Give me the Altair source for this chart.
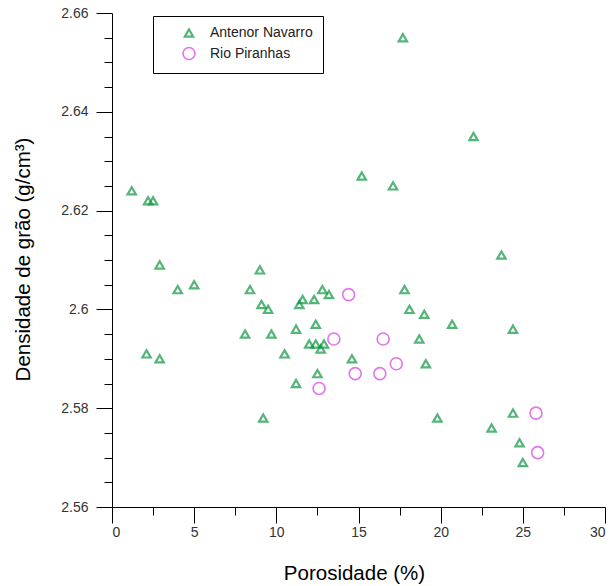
import altair as alt
import pandas as pd

# Antenor Navarro samples: porosity (%) and grain density (g/cm3)
an_por = [1.2, 2.2, 2.5, 2.9, 4.0, 5.0, 9.0, 8.4, 9.1, 9.5, 8.1, 9.7, 2.1, 2.9,
          10.5, 11.2, 11.6, 11.4, 12.3, 12.8, 13.2, 12.4, 12.0, 12.4, 12.9, 12.7,
          12.5, 11.2, 9.2, 17.7, 22.0, 15.2, 17.1, 17.8, 18.1, 19.0, 20.7, 24.4,
          18.7, 14.6, 19.1, 19.8, 24.4, 23.1, 24.8, 25.0, 23.7]
an_dens = [2.624, 2.622, 2.622, 2.609, 2.604, 2.605, 2.608, 2.604, 2.601, 2.600,
           2.595, 2.595, 2.591, 2.590, 2.591, 2.596, 2.602, 2.601, 2.602, 2.604,
           2.603, 2.597, 2.593, 2.593, 2.593, 2.592, 2.587, 2.585, 2.578, 2.655,
           2.635, 2.627, 2.625, 2.604, 2.600, 2.599, 2.597, 2.596, 2.594, 2.590,
           2.589, 2.578, 2.579, 2.576, 2.573, 2.569, 2.611]

# Rio Piranhas samples
rp_por = [14.4, 13.5, 16.5, 14.8, 16.3, 17.3, 12.6, 25.8, 25.9]
rp_dens = [2.603, 2.594, 2.594, 2.587, 2.587, 2.589, 2.584, 2.579, 2.571]

groups = ["Antenor Navarro", "Rio Piranhas"]

# Axis tick positions (major ones carry labels, halves are minor ticks)
x_ticks = [0, 2.5, 5, 7.5, 10, 12.5, 15, 17.5, 20, 22.5, 25, 27.5, 30]
y_ticks = [2.56, 2.565, 2.57, 2.575, 2.58, 2.585, 2.59, 2.595, 2.6, 2.605,
           2.61, 2.615, 2.62, 2.625, 2.63, 2.635, 2.64, 2.645, 2.65, 2.655, 2.66]

df = pd.concat([
    pd.DataFrame({"por": an_por, "dens": an_dens, "grupo": groups[0]}),
    pd.DataFrame({"por": rp_por, "dens": rp_dens, "grupo": groups[1]}),
])

FONT = "Liberation Sans"

x_axis = alt.Axis(
    values=x_ticks,
    title="Porosidade (%)",
    labelExpr="datum.value % 5 == 0 ? format(datum.value, '~g') : ''",
    tickSize={"condition": {"test": "datum.value % 5 == 0", "value": 16}, "value": 8},
    labelPadding=2,
    grid=False,
    domainColor="black",
    tickColor="black",
    labelColor="#333333",
    labelFontSize=14,
    labelFont=FONT,
    titleFont=FONT,
    titleFontSize=20.5,
    titleFontWeight="normal",
    titleColor="black",
    titleX=242,
    titleY=72,
    titleBaseline="alphabetic",
)

y_axis = alt.Axis(
    values=y_ticks,
    title="Densidade de grão (g/cm³)",
    labelExpr="round(datum.value * 1000) % 20 == 0 ? format(datum.value, '~g') : ''",
    tickSize={"condition": {"test": "round(datum.value * 1000) % 20 == 0", "value": 16}, "value": 8},
    labelPadding=8,
    grid=False,
    domainColor="black",
    tickColor="black",
    labelColor="#333333",
    labelFontSize=14,
    labelFont=FONT,
    titleFont=FONT,
    titleFontSize=20.5,
    titleFontWeight="normal",
    titleColor="black",
    titleX=-89,
    titleY=246,
    titleAngle=270,
    titleBaseline="middle",
)

legend = alt.Legend(
    title=None,
    orient="none",
    legendX=41,
    legendY=3,
    strokeColor="black",
    fillColor="white",
    padding=10,
    symbolOffset=19,
    labelOffset=14,
    rowPadding=1.5,
    symbolSize=90,
    symbolStrokeWidth=1.8,
    labelFont=FONT,
    labelFontSize=14,
    labelColor="#222222",
)

chart = alt.Chart(df).mark_point(filled=False).encode(
    x=alt.X("por:Q", scale=alt.Scale(domain=[0, 30], nice=False, zero=False), axis=x_axis),
    y=alt.Y("dens:Q", scale=alt.Scale(domain=[2.56, 2.66], nice=False, zero=False), axis=y_axis),
    color=alt.Color("grupo:N", scale=alt.Scale(domain=groups, range=["#0c9640", "#d63be8"]), legend=legend),
    shape=alt.Shape("grupo:N", scale=alt.Scale(domain=groups, range=["triangle-up", "circle"]), legend=legend),
    size=alt.Size("grupo:N", scale=alt.Scale(domain=groups, range=[70, 144]), legend=None),
    strokeWidth=alt.StrokeWidth("grupo:N", scale=alt.Scale(domain=groups, range=[2.2, 1.6]), legend=None),
).properties(
    width=493,
    height=494,
    autosize=alt.AutoSizeParams(type="none"),
    padding={"left": 112, "top": 13, "right": 9, "bottom": 79},
    background="white",
).configure_view(stroke=None)

chart.save("out.html", embed_options={"renderer": "svg", "actions": False})
